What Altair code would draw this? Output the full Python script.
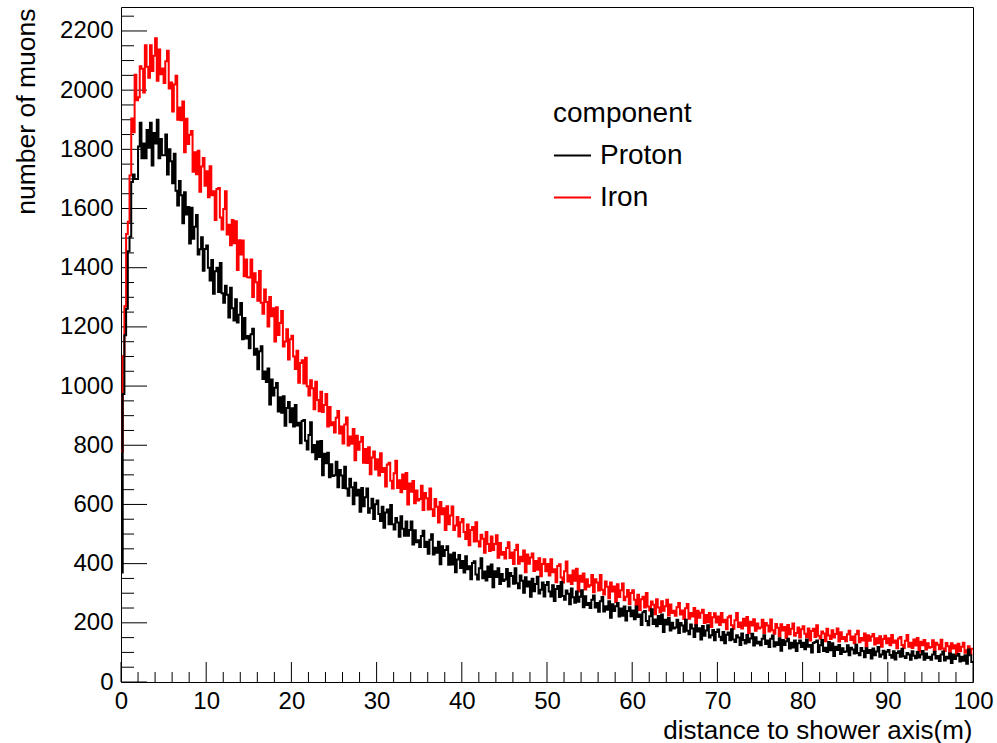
import altair as alt
import pandas as pd

FONT = "Liberation Sans"
BIN_WIDTH = 0.2  # metres per histogram bin

proton = [
    370, 973, 1172, 1261, 1456, 1505, 1690, 1715, 1700, 1700, 1810, 1890, 1770, 1820, 1770, 1865, 1805, 1890, 1745, 1855, 1820, 1900, 1770, 1835, 1780,
    1780, 1850, 1715, 1800, 1760, 1685, 1785, 1660, 1610, 1693, 1645, 1550, 1655, 1580, 1605, 1482, 1603, 1498, 1538, 1578, 1445, 1462, 1503, 1390, 1463,
    1475, 1400, 1357, 1426, 1312, 1388, 1400, 1318, 1416, 1314, 1282, 1339, 1309, 1232, 1332, 1263, 1222, 1293, 1215, 1241, 1281, 1158, 1230, 1161, 1169,
    1128, 1175, 1194, 1106, 1126, 1057, 1118, 1135, 1024, 1049, 1014, 1059, 938, 1022, 968, 994, 1010, 914, 962, 910, 966, 866, 926, 946, 878,
    925, 863, 936, 867, 876, 807, 882, 885, 815, 786, 835, 878, 776, 801, 753, 813, 760, 814, 699, 771, 739, 775, 692, 736, 696,
    699, 744, 658, 716, 698, 656, 727, 654, 629, 687, 658, 601, 673, 630, 650, 575, 656, 594, 624, 654, 572, 587, 619, 551, 601,
    613, 568, 544, 592, 521, 573, 583, 533, 598, 533, 515, 554, 539, 491, 560, 518, 494, 542, 494, 514, 542, 465, 513, 472, 479,
    456, 493, 511, 456, 474, 433, 481, 499, 431, 454, 437, 474, 398, 459, 426, 446, 459, 396, 431, 397, 437, 371, 414, 429, 385,
    409, 370, 425, 381, 391, 347, 402, 408, 363, 346, 384, 418, 351, 373, 343, 390, 355, 397, 320, 374, 355, 384, 331, 365, 341,
    346, 382, 323, 368, 358, 332, 384, 334, 317, 360, 342, 302, 354, 323, 340, 288, 349, 307, 331, 356, 299, 312, 336, 289, 328,
    338, 306, 289, 327, 274, 314, 324, 287, 338, 291, 278, 309, 298, 263, 316, 286, 268, 306, 271, 288, 310, 253, 290, 260, 267,
    250, 278, 292, 252, 267, 237, 273, 287, 238, 256, 244, 273, 217, 263, 240, 256, 267, 221, 248, 224, 255, 208, 240, 253, 222,
    242, 212, 255, 220, 228, 193, 236, 240, 206, 192, 222, 246, 196, 211, 188, 223, 196, 228, 169, 210, 194, 216, 174, 200, 181,
    184, 210, 166, 199, 191, 170, 210, 173, 161, 194, 181, 152, 192, 171, 182, 144, 189, 156, 174, 192, 150, 158, 176, 141, 169,
    177, 153, 141, 169, 131, 160, 167, 141, 178, 144, 135, 158, 150, 125, 164, 142, 130, 159, 134, 147, 163, 123, 151, 130, 136,
    124, 146, 158, 128, 140, 118, 146, 157, 120, 134, 125, 148, 106, 142, 125, 138, 146, 113, 133, 117, 140, 105, 131, 140, 118,
    133, 111, 144, 119, 125, 100, 132, 135, 140, 101, 124, 142, 105, 116, 101, 135, 107, 131, 88, 119, 108, 125, 95, 114, 101,
    103, 124, 90, 116, 110, 96, 126, 98, 90, 115, 105, 84, 114, 98, 108, 79, 113, 90, 103, 118, 85, 93, 106, 80, 102,
    108, 91, 82, 104, 76, 98, 104, 85, 112, 87, 81, 98, 93, 75, 104, 89, 80, 101, 83, 93, 105, 75, 96, 81, 85,
    75, 93, 102, 79, 88, 71, 93, 103, 73, 85, 79, 96, 64, 93, 78, 89, 95, 69, 85, 72, 90, 62, 110, 90, 68,
]

iron = [
    780, 1101, 1270, 1514, 1555, 1712, 1904, 1858, 2052, 1966, 1976, 2081, 2072, 1992, 2152, 2079, 2042, 2152, 2065, 2116, 2175, 2032, 2137, 2054, 2073,
    2024, 2098, 2133, 2006, 2026, 1928, 2019, 2049, 1900, 1941, 1898, 1962, 1790, 1903, 1818, 1849, 1862, 1724, 1790, 1716, 1795, 1657, 1742, 1771, 1677,
    1726, 1638, 1743, 1645, 1658, 1561, 1666, 1669, 1570, 1529, 1598, 1658, 1512, 1545, 1476, 1561, 1483, 1557, 1392, 1493, 1445, 1492, 1371, 1428, 1368,
    1367, 1428, 1301, 1381, 1351, 1288, 1389, 1282, 1244, 1326, 1284, 1201, 1301, 1236, 1263, 1151, 1266, 1173, 1213, 1254, 1134, 1151, 1192, 1090, 1158,
    1170, 1100, 1058, 1119, 1011, 1078, 1087, 1009, 1096, 999, 968, 1020, 993, 922, 1015, 953, 915, 981, 912, 936, 973, 863, 929, 868, 878,
    843, 893, 916, 840, 863, 806, 870, 894, 799, 830, 805, 855, 749, 832, 785, 812, 828, 741, 787, 740, 793, 702, 759, 779, 718,
    753, 698, 773, 710, 723, 661, 735, 741, 680, 654, 705, 748, 656, 682, 641, 701, 652, 706, 600, 671, 643, 679, 604, 647, 613,
    618, 663, 581, 639, 621, 583, 654, 584, 561, 618, 592, 539, 608, 567, 587, 514, 594, 533, 563, 593, 514, 529, 558, 492, 540,
    551, 507, 483, 532, 462, 514, 524, 475, 540, 476, 458, 498, 484, 437, 507, 466, 443, 492, 446, 466, 496, 420, 470, 430, 439,
    417, 453, 472, 419, 438, 399, 446, 464, 400, 423, 408, 444, 371, 431, 400, 421, 434, 375, 409, 379, 418, 357, 399, 415, 374,
    399, 360, 415, 371, 381, 337, 392, 398, 353, 336, 374, 407, 340, 361, 331, 377, 342, 383, 306, 359, 339, 367, 313, 347, 322,
    327, 362, 303, 347, 336, 309, 362, 312, 296, 340, 322, 283, 336, 306, 323, 270, 330, 287, 310, 333, 276, 288, 311, 263, 301,
    310, 278, 260, 295, 243, 280, 288, 252, 301, 255, 242, 272, 261, 229, 280, 252, 236, 273, 241, 256, 278, 225, 262, 233, 241,
    224, 253, 267, 228, 242, 213, 249, 264, 214, 233, 221, 250, 194, 241, 217, 234, 244, 199, 226, 202, 233, 186, 219, 232, 201,
    221, 193, 233, 202, 210, 178, 219, 224, 192, 180, 209, 233, 186, 201, 181, 214, 190, 220, 165, 204, 191, 212, 173, 198, 181,
    184, 210, 166, 199, 191, 171, 211, 175, 163, 196, 183, 155, 195, 174, 186, 148, 193, 161, 180, 198, 156, 166, 184, 150, 178,
    188, 163, 151, 181, 140, 172, 180, 152, 192, 156, 147, 171, 164, 138, 180, 157, 145, 175, 150, 162, 181, 137, 168, 145, 152,
    138, 161, 173, 142, 154, 131, 161, 173, 134, 149, 140, 164, 119, 158, 139, 154, 162, 127, 148, 131, 155, 119, 145, 156, 131,
    148, 124, 159, 133, 140, 114, 147, 152, 125, 115, 139, 159, 119, 133, 115, 144, 123, 149, 102, 136, 124, 142, 110, 131, 116,
    118, 141, 105, 133, 126, 111, 143, 113, 105, 132, 121, 98, 131, 113, 124, 93, 129, 104, 119, 133, 99, 107, 121, 93, 112,
]

components = ["Proton", "Iron"]
colors = ["black", "red"]

x_major = list(range(0, 101, 10))
x_minor = [v for v in range(0, 101, 2) if v % 10]
y_major = list(range(0, 2201, 200))
y_minor = [v for v in range(0, 2281, 50) if v % 200]

X_DOMAIN = [0, 100]
Y_DOMAIN = [0, 2281]
W, H = 852, 675


def steps(values, name):
    rows = [{"x": i * BIN_WIDTH, "y": v, "component": name} for i, v in enumerate(values)]
    rows.append({"x": len(values) * BIN_WIDTH, "y": values[-1], "component": name})
    return rows


hist = pd.DataFrame(steps(iron, "Iron") + steps(proton, "Proton"))

xscale = alt.Scale(domain=X_DOMAIN, nice=False, zero=False)
yscale = alt.Scale(domain=Y_DOMAIN, nice=False, zero=False)

xaxis = alt.Axis(
    values=x_major, title="distance to shower axis(m)", titleAnchor="end", titleAlign="right",
    titleX=851, titleY=56, titleBaseline="alphabetic", titleFontSize=26, titleFontWeight="normal",
    titleFont=FONT, titleColor="black", labelFont=FONT, labelFontSize=24, labelColor="black",
    labelPadding=7, ticks=False, domain=False, grid=False, labelFlush=False, labelOverlap=False,
    format="d")
yaxis = alt.Axis(
    values=y_major, title="number of muons", titleAnchor="end", titleAlign="right", titleAngle=270,
    titleX=-87, titleY=1, titleBaseline="alphabetic", titleFontSize=26.5, titleFontWeight="normal",
    titleFont=FONT, titleColor="black", labelFont=FONT, labelFontSize=24, labelColor="black",
    labelPadding=8, ticks=False, domain=False, grid=False, labelFlush=False, labelOverlap=False,
    format="d")

lines = alt.Chart(hist).mark_line(interpolate="step-after", strokeWidth=2, clip=True).encode(
    x=alt.X("x:Q", scale=xscale, axis=xaxis),
    y=alt.Y("y:Q", scale=yscale, axis=yaxis),
    color=alt.Color("component:N", scale=alt.Scale(domain=components, range=colors), legend=alt.Legend(
        title="component", orient="none", legendX=432, legendY=93, titleFont=FONT, labelFont=FONT,
        titleFontSize=28, labelFontSize=28, titleFontWeight="normal", titleColor="black", labelColor="black",
        symbolType="stroke", symbolSize=1369, symbolStrokeWidth=2, labelOffset=8, rowPadding=8,
        titlePadding=8, padding=0)),
    detail="component:N",
)


def yticks(vals, length):
    return alt.Chart(pd.DataFrame({"y": vals})).mark_rule(color="black", strokeWidth=1).encode(
        y=alt.Y("y:Q", scale=yscale, axis=yaxis), x=alt.value(0), x2=alt.value(length))


def xticks(vals, length):
    return alt.Chart(pd.DataFrame({"x": vals})).mark_rule(color="black", strokeWidth=1).encode(
        x=alt.X("x:Q", scale=xscale, axis=xaxis), y=alt.value(H), y2=alt.value(H - length))


chart = alt.layer(
    yticks(y_major, 26), yticks(y_minor, 13), xticks(x_major, 20), xticks(x_minor, 10), lines
).properties(
    width=W, height=H,
    autosize=alt.AutoSizeParams(type="none"),
    padding={"left": 121, "top": 7, "right": 24, "bottom": 61},
    background="white",
).configure_view(stroke="black", strokeWidth=1)

chart.save("out.html", embed_options={"renderer": "svg", "actions": False})
